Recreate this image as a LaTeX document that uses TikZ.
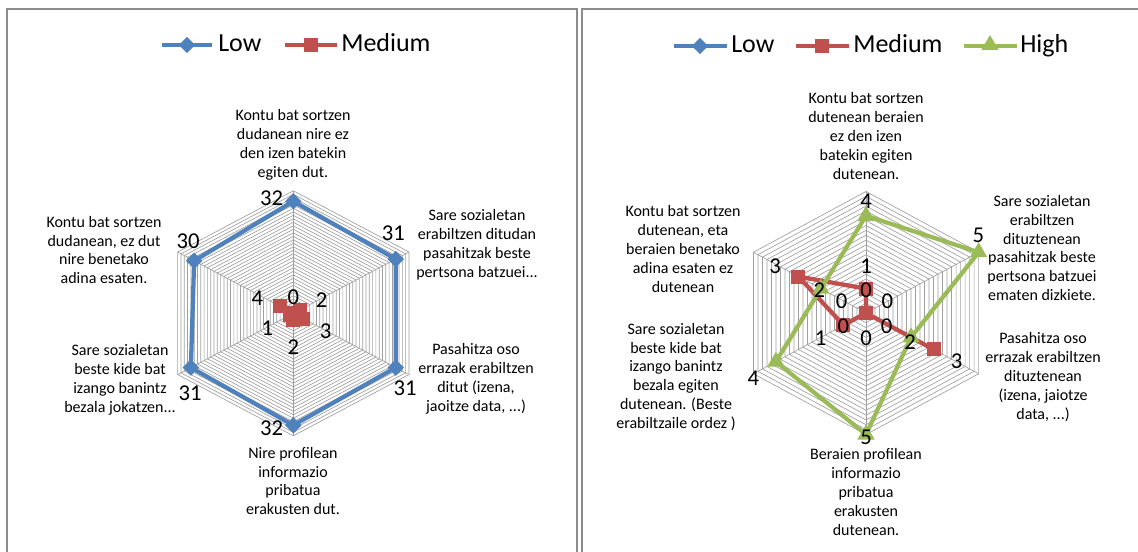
\documentclass[tikz,border=0pt]{standalone}
\usepackage{fontspec}
\setmainfont{Carlito}
\usetikzlibrary{shapes.geometric}
\definecolor{lowblue}{HTML}{4F81BD}
\definecolor{medred}{HTML}{C0504D}
\definecolor{highgreen}{HTML}{9BBB59}
\definecolor{ringgray}{HTML}{A0A0A0}
\definecolor{panelgray}{HTML}{8C8C8C}
\begin{document}
\begin{tikzpicture}[x=0.75pt,y=-0.75pt,
    panel/.style={draw=panelgray,line width=1.5pt},
    ring/.style={draw=ringgray,line width=0.5pt},
    lowline/.style={draw=lowblue,line width=3.2pt,line join=round},
    medline/.style={draw=medred,line width=3.2pt,line join=round},
    highline/.style={draw=highgreen,line width=3.2pt,line join=round},
    lowmark/.style={diamond,fill=lowblue,inner sep=0pt,minimum width=12.5pt,minimum height=12.5pt},
    medmark/.style={rectangle,fill=medred,inner sep=0pt,minimum size=10.5pt},
    highmark/.style={regular polygon,regular polygon sides=3,fill=highgreen,inner sep=0pt,minimum size=15pt},
    catlabel/.style={align=center,font=\fontsize{12}{14.2}\selectfont,text=black},
    vallabel/.style={font=\fontsize{17}{17}\selectfont,inner sep=0pt},
    legtext/.style={font=\fontsize{19.5}{20}\selectfont,anchor=base west,inner sep=0pt}]
\useasboundingbox (0,0) rectangle (1138,552);

% panel frames
\draw[panel] (7,552) -- (7,9) -- (577,9) -- (577,552);
\draw[panel] (582,552) -- (582,9) -- (1138,9);

% legend, left
\draw[lowline] (162,45) -- (212,45);
\node[lowmark] (leglowA) at (187,45) {};
\node[legtext] (leglowtA) at (218,52) {Low};
\draw[medline] (285,45) -- (337,45);
\node[medmark] (legmedA) at (311,45) {};
\node[legtext] (legmedtA) at (341,52) {Medium};

% legend, right
\draw[lowline] (674,46) -- (727,46);
\node[lowmark] (leglowB) at (700,46) {};
\node[legtext] (leglowtB) at (731,53) {Low};
\draw[medline] (796,46) -- (849,46);
\node[medmark] (legmedB) at (822,46) {};
\node[legtext] (legmedtB) at (853,53) {Medium};
\draw[highline] (964,46) -- (1017,46);
\node[highmark] (leghighB) at (990,45) {};
\node[legtext] (leghightB) at (1020,53) {High};

% left radar
\begin{scope}[shift={(293.3,313.3)},xscale=1.09]
  \foreach \i in {1,...,35}
    \draw[ring] (0,-3.5*\i) \foreach \a in {60,120,...,300}{ -- ({3.5*\i*sin(\a)},{-3.5*\i*cos(\a)}) } -- cycle;
  \foreach \a in {0,60,...,300}
    \draw[ring] (0,0) -- ({122.5*sin(\a)},{-122.5*cos(\a)});
  \foreach \v [count=\k from 0] in {32,31,31,32,31,30}
    \coordinate (L\k) at ({3.5*\v*sin(60*\k)},{-3.5*\v*cos(60*\k)});
  \draw[lowline] (L0) -- (L1) -- (L2) -- (L3) -- (L4) -- (L5) -- cycle;
  \foreach \k in {0,...,5} \node[lowmark] (Lm\k) at (L\k) {};
  \foreach \v [count=\k from 0] in {0,2,3,2,1,4}
    \coordinate (M\k) at ({3.5*\v*sin(60*\k)},{-3.5*\v*cos(60*\k)});
  \draw[medline] (M0) -- (M1) -- (M2) -- (M3) -- (M4) -- (M5) -- cycle;
  \foreach \k in {0,...,5} \node[medmark] (Mm\k) at (M\k) {};
\end{scope}

% left values
\node[vallabel] (lvA) at (271.7,198.3) {32};
\node[vallabel] (lvB) at (393.3,233.3) {31};
\node[vallabel] (lvC) at (405,388.3) {31};
\node[vallabel] (lvD) at (271.7,428.3) {32};
\node[vallabel] (lvE) at (190,393.3) {31};
\node[vallabel] (lvF) at (188,241.7) {30};
\node[vallabel] (mvA) at (293.3,297) {0};
\node[vallabel] (mvB) at (321.7,300) {2};
\node[vallabel] (mvC) at (325.7,331.7) {3};
\node[vallabel] (mvD) at (293.3,346.7) {2};
\node[vallabel] (mvE) at (267.3,328.3) {1};
\node[vallabel] (mvF) at (257.3,298.3) {4};

% left categories
\node[catlabel] (lcA) at (293,145) {Kontu bat sortzen\\dudanean nire ez\\den izen batekin\\egiten dut.};
\node[catlabel] (lcB) at (477,245) {Sare sozialetan\\erabiltzen ditudan\\pasahitzak beste\\pertsona batzuei...};
\node[catlabel] (lcC) at (476,379) {Pasahitza oso\\errazak erabiltzen\\ditut (izena,\\jaoitze data, ...)};
\node[catlabel] (lcD) at (293,481) {Nire profilean\\informazio\\pribatua\\erakusten dut.};
\node[catlabel] (lcE) at (120,380) {Sare sozialetan\\beste kide bat\\izango banintz\\bezala jokatzen...};
\node[catlabel] (lcF) at (104,250) {Kontu bat sortzen\\dudanean, ez dut\\nire benetako\\adina esaten.};

% right radar
\begin{scope}[shift={(866,313)},xscale=1.07]
  \foreach \i in {1,...,25}
    \draw[ring] (0,-4.86*\i) \foreach \a in {60,120,...,300}{ -- ({4.86*\i*sin(\a)},{-4.86*\i*cos(\a)}) } -- cycle;
  \foreach \a in {0,60,...,300}
    \draw[ring] (0,0) -- ({121.5*sin(\a)},{-121.5*cos(\a)});
  \foreach \v [count=\k from 0] in {1,0,3,0,1,3}
    \coordinate (RM\k) at ({24.3*\v*sin(60*\k)},{-24.3*\v*cos(60*\k)});
  \draw[medline] (RM0) -- (RM1) -- (RM2) -- (RM3) -- (RM4) -- (RM5) -- cycle;
  \foreach \k in {0,...,5} \node[medmark] (RMm\k) at (RM\k) {};
  \foreach \v [count=\k from 0] in {4,5,2,5,4,2}
    \coordinate (RH\k) at ({24.3*\v*sin(60*\k)},{-24.3*\v*cos(60*\k)});
  \draw[highline] (RH0) -- (RH1) -- (RH2) -- (RH3) -- (RH4) -- (RH5) -- cycle;
  \foreach \k in {0,...,5} \node[highmark] (RHm\k) at (RH\k) {};
\end{scope}

% right values
\node[vallabel] (rvA) at (866,201.7) {4};
\node[vallabel] (rvB) at (978.3,235) {5};
\node[vallabel] (rvC) at (910,342) {2};
\node[vallabel] (rvD) at (866,437) {5};
\node[vallabel] (rvE) at (753.3,378.3) {4};
\node[vallabel] (rvF) at (819.3,290) {2};
\node[vallabel] (rvG) at (775,266.7) {3};
\node[vallabel] (rvH) at (956.7,361.7) {3};
\node[vallabel] (rvI) at (866,266.7) {1};
\node[vallabel] (rvJ) at (866,290) {0};
\node[vallabel] (rvK) at (841.7,301.7) {0};
\node[vallabel] (rvL) at (887.3,301.7) {0};
\node[vallabel] (rvM) at (843.3,326) {0};
\node[vallabel] (rvN) at (886.7,326) {0};
\node[vallabel] (rvO) at (866,338.3) {0};
\node[vallabel] (rvP) at (820.7,338.3) {1};

% right categories
\node[catlabel] (rcA) at (866,136) {Kontu bat sortzen\\dutenean beraien\\ez den izen\\batekin egiten\\dutenean.};
\node[catlabel] (rcB) at (1042,248) {Sare sozialetan\\erabiltzen\\dituztenean\\pasahitzak beste\\pertsona batzuei\\ematen dizkiete.};
\node[catlabel] (rcC) at (1043,377) {Pasahitza oso\\errazak erabiltzen\\dituztenean\\(izena, jaiotze\\data, ...)};
\node[catlabel] (rcD) at (866,492) {Beraien profilean\\informazio\\pribatua\\erakusten\\dutenean.};
\node[catlabel] (rcE) at (676,377) {Sare sozialetan\\beste kide bat\\izango banintz\\bezala egiten\\dutenean. (Beste\\erabiltzaile ordez )};
\node[catlabel] (rcF) at (683,249) {Kontu bat sortzen\\dutenean, eta\\beraien benetako\\adina esaten ez\\dutenean};
\end{tikzpicture}
\end{document}
